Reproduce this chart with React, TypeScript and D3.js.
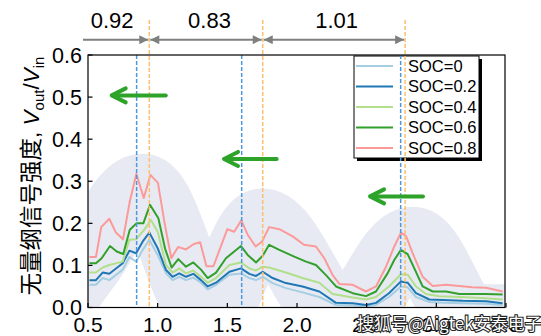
import React from 'react';
import * as d3 from 'd3';

const xTicks = [0.5, 1.0, 1.5, 2.0, 2.5, 3.0, 3.5];
const yTicks = [0, 0.1, 0.2, 0.3, 0.4, 0.5, 0.6];

const socLabels = ['SOC=0', 'SOC=0.2', 'SOC=0.4', 'SOC=0.6', 'SOC=0.8'];
const socColors = ['#a6cee3', '#1f78b4', '#b2df8a', '#33a02c', '#fb9a99'];

const soc0 = [[0.51,0.054],[0.557,0.054],[0.605,0.07],[0.653,0.065],[0.749,0.09],[0.797,0.12],[0.845,0.109],[0.893,0.137],[0.94,0.161],[1.0,0.125],[1.06,0.081],[1.107,0.065],[1.155,0.073],[1.203,0.065],[1.256,0.071],[1.311,0.059],[1.359,0.043],[1.419,0.054],[1.515,0.078],[1.598,0.081],[1.658,0.07],[1.706,0.065],[1.754,0.073],[1.825,0.058],[1.92,0.046],[2.04,0.036],[2.16,0.025],[2.28,0.006],[2.40,0.005],[2.495,0.003],[2.567,0.006],[2.66,0.025],[2.746,0.05],[2.794,0.048],[2.854,0.025],[2.95,0.013],[3.045,0.011],[3.19,0.01],[3.357,0.009],[3.476,0.006]];
const soc02 = [[0.51,0.065],[0.557,0.065],[0.605,0.083],[0.653,0.08],[0.749,0.105],[0.797,0.135],[0.845,0.129],[0.893,0.157],[0.94,0.178],[1.0,0.141],[1.06,0.089],[1.107,0.073],[1.155,0.081],[1.203,0.073],[1.256,0.08],[1.311,0.065],[1.359,0.05],[1.419,0.059],[1.515,0.085],[1.598,0.093],[1.658,0.08],[1.706,0.075],[1.754,0.085],[1.825,0.07],[1.92,0.058],[2.04,0.05],[2.16,0.038],[2.28,0.011],[2.40,0.01],[2.495,0.006],[2.567,0.011],[2.66,0.034],[2.746,0.062],[2.794,0.059],[2.854,0.034],[2.95,0.019],[3.045,0.018],[3.19,0.016],[3.357,0.015],[3.476,0.01]];
const soc04 = [[0.51,0.083],[0.557,0.083],[0.605,0.095],[0.653,0.101],[0.749,0.109],[0.797,0.161],[0.845,0.162],[0.904,0.185],[0.952,0.208],[1.0,0.18],[1.06,0.101],[1.107,0.083],[1.155,0.093],[1.203,0.081],[1.256,0.088],[1.311,0.073],[1.359,0.059],[1.419,0.07],[1.515,0.101],[1.598,0.107],[1.658,0.093],[1.706,0.088],[1.754,0.097],[1.80,0.095],[1.92,0.083],[2.04,0.07],[2.16,0.059],[2.256,0.032],[2.40,0.024],[2.495,0.019],[2.567,0.025],[2.66,0.05],[2.746,0.079],[2.794,0.078],[2.854,0.05],[2.926,0.032],[3.02,0.027],[3.165,0.025],[3.357,0.022],[3.476,0.019]];
const soc06 = [[0.51,0.105],[0.557,0.105],[0.598,0.117],[0.658,0.146],[0.706,0.133],[0.753,0.127],[0.80,0.185],[0.849,0.2],[0.897,0.2],[0.945,0.244],[1.005,0.212],[1.053,0.14],[1.10,0.095],[1.148,0.115],[1.203,0.097],[1.256,0.107],[1.311,0.09],[1.359,0.07],[1.419,0.083],[1.49,0.117],[1.545,0.132],[1.598,0.146],[1.646,0.125],[1.706,0.107],[1.754,0.123],[1.80,0.149],[1.873,0.137],[1.98,0.121],[2.065,0.109],[2.136,0.101],[2.208,0.077],[2.28,0.05],[2.40,0.034],[2.495,0.027],[2.567,0.038],[2.65,0.081],[2.698,0.113],[2.746,0.137],[2.794,0.127],[2.842,0.093],[2.902,0.05],[2.974,0.038],[3.07,0.038],[3.165,0.032],[3.357,0.032],[3.476,0.031]];
const soc08 = [[0.51,0.12],[0.557,0.12],[0.595,0.191],[0.653,0.211],[0.70,0.178],[0.751,0.162],[0.80,0.252],[0.847,0.318],[0.90,0.26],[0.948,0.315],[1.002,0.296],[1.05,0.2],[1.098,0.117],[1.146,0.144],[1.203,0.138],[1.26,0.151],[1.305,0.155],[1.35,0.098],[1.40,0.098],[1.50,0.186],[1.549,0.18],[1.600,0.207],[1.646,0.173],[1.703,0.145],[1.750,0.157],[1.80,0.191],[1.873,0.186],[1.969,0.169],[2.05,0.149],[2.136,0.145],[2.196,0.117],[2.256,0.077],[2.304,0.056],[2.40,0.054],[2.495,0.038],[2.567,0.05],[2.639,0.097],[2.698,0.145],[2.746,0.178],[2.782,0.17],[2.83,0.129],[2.902,0.073],[2.974,0.051],[3.07,0.054],[3.165,0.051],[3.26,0.048],[3.357,0.047],[3.476,0.038]];
const series = [soc0, soc02, soc04, soc06, soc08];

// centre line of the shaded wave band
const bandX = [0.3, 0.5, 0.89, 1.37, 1.75, 2.33, 2.83, 3.25, 3.7];
const bandY = [0.02, 0.11, 0.28, -0.01, 0.197, -0.03, 0.154, -0.03, -0.03];

const blueMarks = [0.849, 1.603, 2.744];
const orangeMarks = [0.94, 1.754, 2.776];
const spanStart = 0.464;
const spanLabels = ['0.92', '0.83', '1.01'];
const spanLabelShift = [-4, 3.5, 2.7];

// green shift arrows: [tipX, tailX, y]
const shiftArrows = [[0.663, 1.058, 0.504], [1.469, 1.854, 0.353], [2.517, 2.904, 0.264]];

const FONT = "'Liberation Sans', Arial, 'Noto Sans CJK SC', sans-serif";

export default function App() {
  const x = d3.scaleLinear().domain([0.5, 3.5]).range([88, 506]);
  const y = d3.scaleLinear().domain([0, 0.6]).range([307.5, 55]);
  const [x0, x1] = [88, 505];
  const [yb, yt] = [307.5, 55];
  const line = d3.line<number[]>().x(d => x(d[0])).y(d => y(d[1]));
  const bandPath = d3.line<number>().x((d, i) => x(bandX[i])).y(d => y(d)).curve(d3.curveMonotoneX)(bandY) || '';
  const arrowY = 39.7;
  const spanPts = [spanStart, ...orangeMarks];

  const legX = 354, legY = 56, legW = 125, legH = 102, rowH = 20.5;

  return (
    <svg width={541} height={336} style={{ position: 'absolute', left: 0, top: 0 }} fontFamily={FONT}>
      <defs>
        <clipPath id="plot"><rect x={x0} y={yt} width={x1 - x0} height={yb - yt} /></clipPath>
        <marker id="ah" viewBox="0 0 10 10" refX="10" refY="5" markerWidth="11" markerHeight="9" markerUnits="userSpaceOnUse" orient="auto-start-reverse">
          <path d="M0,0 L10,5 L0,10 z" fill="#7f7f7f" />
        </marker>
      </defs>
      <rect x={0} y={0} width={541} height={336} fill="#fff" />
      <g clipPath="url(#plot)">
        <path d={bandPath} fill="none" stroke="#e7eaf3" strokeWidth={72} />
        {series.map((s, i) => (
          <path key={i} d={line(s) || ''} fill="none" stroke={socColors[i]} strokeWidth={2} strokeLinejoin="round" />
        ))}
      </g>
      {/* legend */}
      <rect x={legX + 3} y={legY + 3} width={legW} height={legH} fill="#000" />
      <rect x={legX} y={legY} width={legW} height={legH} fill="#fff" stroke="#000" strokeWidth={1} />
      {socLabels.map((t, i) => (
        <g key={t}>
          <line x1={legX + 2} x2={legX + 39} y1={legY + 10 + i * rowH} y2={legY + 10 + i * rowH} stroke={socColors[i]} strokeWidth={2} />
          <text x={legX + 54} y={legY + 10 + i * rowH} dy="0.36em" fontSize={16.5}>{t}</text>
        </g>
      ))}
      {/* dashed marker lines */}
      {blueMarks.map((v, i) => (
        <line key={'b' + i} x1={x(v)} x2={x(v)} y1={yt} y2={yb} stroke="#4f97dc" strokeWidth={1.5} strokeDasharray="4,2" />
      ))}
      {orangeMarks.map((v, i) => (
        <line key={'o' + i} x1={x(v)} x2={x(v)} y1={20} y2={yb} stroke="#fdbf6f" strokeWidth={1.5} strokeDasharray="4,2" />
      ))}
      {/* frame */}
      <rect x={x0} y={yt} width={x1 - x0} height={yb - yt} fill="none" stroke="#000" strokeWidth={1.2} />
      {xTicks.map(t => (
        <g key={'x' + t}>
          <line x1={x(t)} x2={x(t)} y1={yb} y2={yb - 4.5} stroke="#000" strokeWidth={1.2} />
          <text x={x(t)} y={331.5} textAnchor="middle" fontSize={21}>{t.toFixed(1)}</text>
        </g>
      ))}
      {yTicks.map(t => (
        <g key={'y' + t}>
          <line x1={x0} x2={x0 + 4.5} y1={y(t)} y2={y(t)} stroke="#000" strokeWidth={1.2} />
          <text x={82} y={y(t)} dy="0.36em" textAnchor="end" fontSize={21.5}>{t.toFixed(1)}</text>
        </g>
      ))}
      {/* y label */}
      <text transform="translate(39,176) rotate(-90)" textAnchor="middle" fontSize={22.5}>
        <tspan>无量纲信号强度, </tspan>
        <tspan fontStyle="italic">V</tspan>
        <tspan fontSize={15} dy={5}>out</tspan>
        <tspan dy={-5}>/</tspan>
        <tspan fontStyle="italic">V</tspan>
        <tspan fontSize={15} dy={5}>in</tspan>
      </text>
      {/* span arrows */}
      {spanLabels.map((lab, i) => {
        const a = x(spanPts[i]);
        const b = x(spanPts[i + 1]);
        return (
          <g key={lab}>
            <line x1={i === 0 ? a : a + 1} x2={b - 1} y1={arrowY} y2={arrowY} stroke="#7f7f7f" strokeWidth={2}
              markerEnd="url(#ah)" markerStart={i === 0 ? undefined : 'url(#ah)'} />
            <text x={(a + b) / 2 + spanLabelShift[i]} y={27.5} textAnchor="middle" fontSize={22}>{lab}</text>
          </g>
        );
      })}
      {/* green shift arrows */}
      {shiftArrows.map((a, i) => {
        const tx = x(a[0]), tl = x(a[1]), yy = y(a[2]);
        return (
          <g key={'g' + i} stroke="#2ea32a" strokeWidth={4} fill="none" strokeLinecap="round" strokeLinejoin="round">
            <line x1={tx + 2} x2={tl} y1={yy} y2={yy} />
            <path d={`M${tx + 15},${yy - 7} L${tx + 1},${yy} L${tx + 15},${yy + 7}`} />
          </g>
        );
      })}
      {/* watermark */}
      <text x={357} y={330} fontSize={17} fill="#fff" stroke="#222" strokeWidth={2.2} paintOrder="stroke" fontFamily="'Noto Sans CJK SC', sans-serif">搜狐号@Aigtek安泰电子</text>
    </svg>
  );
}
